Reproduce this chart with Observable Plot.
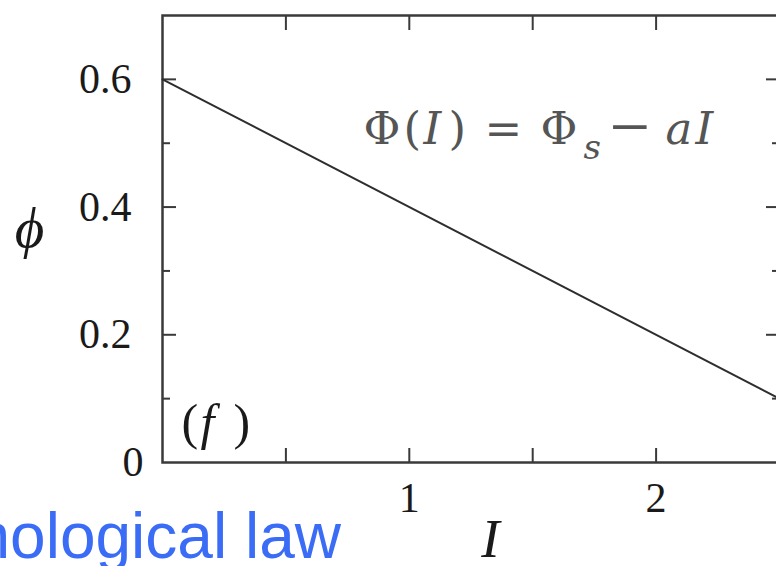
<!DOCTYPE html>
<html>
<head>
<meta charset="utf-8">
<script src="https://cdn.jsdelivr.net/npm/d3@7"></script>
<script src="https://cdn.jsdelivr.net/npm/@observablehq/plot@0.6"></script>
<style>
  html, body { margin: 0; padding: 0; background: white; overflow: hidden; }
  #chart { width: 776px; height: 566px; overflow: hidden; }
</style>
</head>
<body>
<div id="chart"></div>
<script>
// Linear rheological law: packing fraction phi decreasing with inertial number I
const inertialNumber = [0, 2.5];
const packingFraction = [0.6, 0.1];

// Axis ticks and labels
const xTicks = [0.5, 1, 1.5, 2];
const xTickLabels = [1, 2];
const yMajorTicks = [0.2, 0.4, 0.6];
const yMinorTicks = [0.1, 0.3, 0.5];
const yZeroLabel = [0];

const points = inertialNumber.map((I, i) => ({I, phi: packingFraction[i]}));

const serif = "'Liberation Serif', 'DejaVu Serif', serif";
const mathFont = "'DejaVu Serif', 'Liberation Serif', serif";
const ink = "#1a1a1a";
const axisGrey = "#3a3a3a";

// Frame origin (top-left corner of the plotting area)
const FX = 162, FY = 15;

// Place a text piece by its start x and baseline y, in SVG pixels
function piece(str, x, baseline, {fontSize, textAnchor = "start", ...rest}) {
  return Plot.text([str], {
    text: d => d,
    frameAnchor: "top-left",
    textAnchor,
    lineAnchor: "middle",
    fontSize,
    dx: x - FX,
    dy: baseline - 0.32 * fontSize - FY,
    ...rest
  });
}

const formula = {fontFamily: mathFont, fill: "#555", fontSize: 45};
const formulaItalic = {...formula, fontStyle: "italic"};

const tickStyle = {stroke: axisGrey, strokeWidth: 2, fill: "none", label: null};
const labelStyle = {tickSize: 0, fill: ink, fontSize: 42, fontFamily: serif, label: null};

const chart = Plot.plot({
  width: 776,
  height: 566,
  marginLeft: 162,
  marginRight: -3,
  marginTop: 15,
  marginBottom: 104,
  x: {domain: [0, 2.5]},
  y: {domain: [0, 0.7]},
  style: {fontFamily: serif, background: "white", color: ink},
  marks: [
    // inward ticks on all four sides
    Plot.axisX(xTicks, {anchor: "bottom", tickSize: -14, ...tickStyle}),
    Plot.axisX(xTicks, {anchor: "top", tickSize: -14, ...tickStyle}),
    Plot.axisY(yMajorTicks, {anchor: "left", tickSize: -14, ...tickStyle}),
    Plot.axisY(yMinorTicks, {anchor: "left", tickSize: -8, ...tickStyle}),
    Plot.axisY(yMajorTicks, {anchor: "right", tickSize: -14, ...tickStyle}),
    Plot.axisY(yMinorTicks, {anchor: "right", tickSize: -8, ...tickStyle}),

    // tick labels
    Plot.axisX(xTickLabels, {anchor: "bottom", tickPadding: 20, tickFormat: d => String(d), ...labelStyle}),
    Plot.axisY(yMajorTicks, {anchor: "left", tickPadding: 31, tickFormat: d => d.toFixed(1), ...labelStyle}),
    Plot.axisY(yZeroLabel, {anchor: "left", tickPadding: 19, tickFormat: d => String(d), ...labelStyle}),

    Plot.frame({stroke: axisGrey, strokeWidth: 2.5}),

    // the law itself
    Plot.line(points, {x: "I", y: "phi", stroke: "#2e2e2e", strokeWidth: 2}),

    // axis titles
    piece("\u03D5", 29, 246, {fontSize: 57, fontFamily: serif, fontStyle: "italic", textAnchor: "middle", fill: ink}),
    piece("I", 490, 556, {fontSize: 55, fontFamily: serif, fontStyle: "italic", textAnchor: "middle", fill: ink}),

    // panel tag (f)
    piece("(", 181, 438, {fontSize: 50, fontFamily: serif, fill: ink}),
    piece("f", 200, 438, {fontSize: 50, fontFamily: serif, fontStyle: "italic", fill: ink}),
    piece(")", 233, 438, {fontSize: 50, fontFamily: serif, fill: ink}),

    // formula  Φ(I) = Φ_s − aI
    piece("\u03A6", 363, 143, formula),
    piece("(", 403, 143, formula),
    piece("I", 423, 143, formulaItalic),
    piece(")", 448, 143, formula),
    piece("=", 484, 143, formula),
    piece("\u03A6", 540, 143, formula),
    piece("s", 583, 158, {...formulaItalic, fontSize: 34}),
    piece("\u2212", 609, 150, {...formula, fontFamily: serif, fontSize: 72}),
    piece("a", 665, 143, formulaItalic),
    piece("I", 695, 143, formulaItalic),

    // caption fragment along the bottom edge
    piece("nological law", -26, 557, {fontSize: 64, fontFamily: "'Liberation Sans', Arial, sans-serif", fill: "#3b6cf6"})
  ]
});

document.getElementById("chart").appendChild(chart);
</script>
</body>
</html>
